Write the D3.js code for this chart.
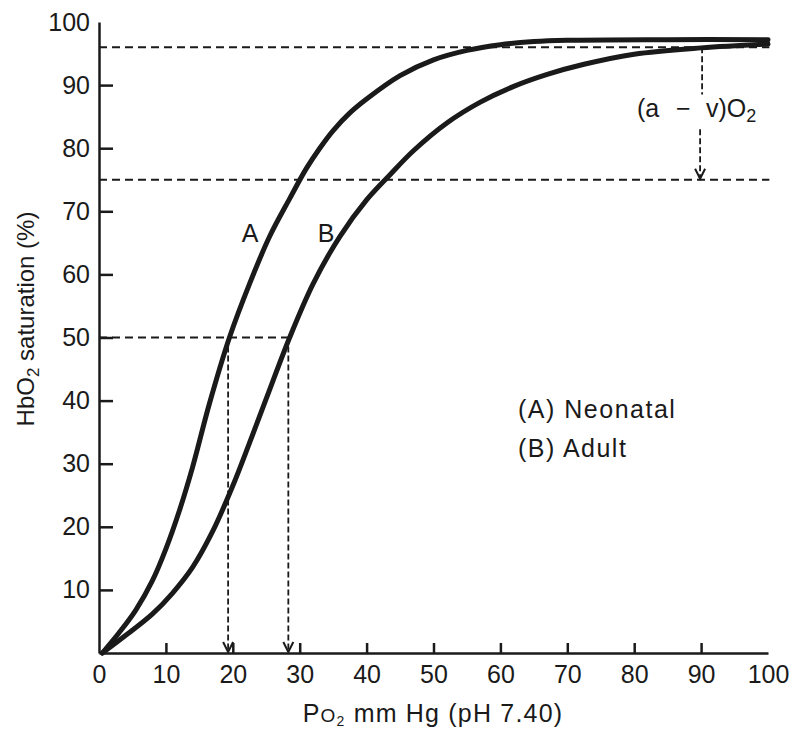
<!doctype html>
<html lang="en">
<head>
    <meta charset="utf-8">
    <script src="https://d3js.org/d3.v7.min.js"></script>
    <title>HbO2 dissociation curves</title>
    <style>
        body { margin: 0; background: white; }
        svg text { font-family: "Liberation Sans", Arial, sans-serif; fill: #1a1a1a; }
    </style>
</head>
<body>
    <svg id="svg" width="803" height="731"></svg>
    <script>
        // data
        const xTicks = [0, 10, 20, 30, 40, 50, 60, 70, 80, 90, 100];
        const yTicks = [10, 20, 30, 40, 50, 60, 70, 80, 90, 100];

        // (A) Neonatal: [PO2, saturation]
        const neonatal = [[0.5, 0], [3, 3.2], [5.5, 6.8], [8, 11.5], [10, 16.5], [12, 22.5], [14, 29.5],
            [16.5, 39.5], [19.5, 50], [22.5, 58.5], [25.5, 66], [28.5, 72], [31, 76.8], [33, 80],
            [35, 82.8], [37.5, 85.6], [40, 87.8], [45, 91.5], [50, 94], [55, 95.5], [60, 96.4],
            [65, 96.9], [70, 97.1], [85, 97.2], [100, 97.2]];
        // (B) Adult
        const adult = [[0.5, 0], [4, 2.8], [8, 6.2], [11, 9.5], [14, 13.6], [17, 19.3], [20, 26.5],
            [22.5, 33.3], [25, 40.3], [28.5, 50], [32, 58.5], [36, 66], [40, 71.8], [43.5, 75.8],
            [47, 79.6], [52, 84], [57, 87.3], [62, 89.8], [67, 91.7], [72.5, 93.3], [80, 94.9],
            [90, 95.9], [100, 96.5]];

        const p50A = 19.3, p50B = 28.3;   // PO2 at 50 %
        const arterial = 96, venous = 75;  // (a - v)O2 levels
        const avX = 90;

        const svg = d3.select("#svg");
        const x = d3.scaleLinear().domain([0, 100]).range([99, 768]);
        const y = d3.scaleLinear().domain([0, 100]).range([653, 22]);
        const ink = "#1a1a1a";
        const fs = 25;

        // dashed guide lines
        const guides = svg.append("g")
            .attr("stroke", ink).attr("stroke-width", 1.8).attr("stroke-dasharray", "8,5").attr("fill", "none");
        guides.append("line").attr("x1", x(0)).attr("x2", x(100.2)).attr("y1", y(arterial)).attr("y2", y(arterial));
        guides.append("line").attr("x1", x(0)).attr("x2", x(100.2)).attr("y1", y(venous)).attr("y2", y(venous));
        guides.append("line").attr("x1", x(0)).attr("x2", x(p50B)).attr("y1", y(50)).attr("y2", y(50));
        guides.append("line").attr("x1", x(p50A)).attr("x2", x(p50A)).attr("y1", y(50)).attr("y2", y(0) - 2)
            .attr("stroke-dasharray", "6,3");
        guides.append("line").attr("x1", x(p50B)).attr("x2", x(p50B)).attr("y1", y(50)).attr("y2", y(0) - 2)
            .attr("stroke-dasharray", "6,3");
        guides.append("line").attr("x1", x(avX) + 1).attr("x2", x(avX) + 1).attr("y1", y(arterial)).attr("y2", y(88.5))
            .attr("stroke-dasharray", "6,3");
        guides.append("line").attr("x1", x(avX) - 1).attr("x2", x(avX) - 1).attr("y1", y(83)).attr("y2", y(venous) - 1)
            .attr("stroke-dasharray", "6,3");

        // arrowheads
        const arrows = [[x(p50A), y(0) - 1], [x(p50B), y(0) - 1], [x(avX) - 1, y(venous) - 1]];
        svg.append("g").selectAll("path").data(arrows).join("path")
            .attr("d", d => `M${d[0] - 5},${d[1] - 10} L${d[0]},${d[1]} L${d[0] + 5},${d[1] - 10}`)
            .attr("fill", "none").attr("stroke", ink).attr("stroke-width", 2);

        // curves
        const line = d3.line().x(d => x(d[0])).y(d => y(d[1])).curve(d3.curveCatmullRom.alpha(0.5));
        svg.append("g").selectAll("path").data([neonatal, adult]).join("path")
            .attr("d", line)
            .attr("fill", "none").attr("stroke", ink).attr("stroke-width", 5)
            .attr("stroke-linecap", "round");

        // axes
        const xAxis = svg.append("g").attr("transform", `translate(0,${y(0)})`)
            .call(d3.axisBottom(x).tickValues(xTicks).tickSize(-10).tickSizeOuter(0).tickPadding(12));
        const yAxis = svg.append("g").attr("transform", `translate(${x(0)},0)`)
            .call(d3.axisLeft(y).tickValues(yTicks).tickSize(-14).tickSizeOuter(0).tickPadding(9));
        [xAxis, yAxis].forEach(a => {
            a.select(".domain").attr("stroke", ink).attr("stroke-width", 2.5);
            a.selectAll(".tick line").attr("stroke", ink).attr("stroke-width", 2.5);
            a.selectAll(".tick text").attr("font-size", fs).attr("fill", ink)
                .style("font-family", "Liberation Sans, Arial, sans-serif");
        });
        xAxis.selectAll(".tick").filter(d => d === 0 || d === 100).select("line").remove();
        yAxis.selectAll(".tick").filter(d => d === 100).select("line").remove();

        // axis titles
        const xt = svg.append("text").attr("x", 433).attr("y", 722).attr("text-anchor", "middle")
            .attr("font-size", fs).attr("letter-spacing", 1.2);
        xt.append("tspan").text("P");
        xt.append("tspan").attr("font-size", 19).text("O");
        xt.append("tspan").attr("font-size", 14).attr("dy", 4).text("2");
        xt.append("tspan").attr("dy", -4).text(" mm Hg (pH  7.40)");

        const yt = svg.append("text").attr("transform", "translate(34,319) rotate(-90)")
            .attr("text-anchor", "middle").attr("font-size", 24);
        yt.append("tspan").text("HbO");
        yt.append("tspan").attr("font-size", 17).attr("dy", 5).text("2");
        yt.append("tspan").attr("dy", -5).text(" saturation (%)");

        // curve labels and legend
        svg.append("text").attr("x", 250).attr("y", 242).attr("text-anchor", "middle").attr("font-size", fs).text("A");
        svg.append("text").attr("x", 326).attr("y", 242).attr("text-anchor", "middle").attr("font-size", fs).text("B");
        svg.append("text").attr("x", 518).attr("y", 418).attr("font-size", fs).attr("letter-spacing", 1.5).text("(A) Neonatal");
        svg.append("text").attr("x", 518).attr("y", 457).attr("font-size", fs).attr("letter-spacing", 1.5).text("(B) Adult");

        const av = svg.append("text").attr("y", 117).attr("font-size", fs);
        av.append("tspan").attr("x", 637).text("(a");
        av.append("tspan").attr("x", 676).text("\u2212");
        av.append("tspan").attr("x", 706).text("v)O");
        av.append("tspan").attr("font-size", 18).attr("dy", 5).text("2");
    </script>
</body>
</html>
